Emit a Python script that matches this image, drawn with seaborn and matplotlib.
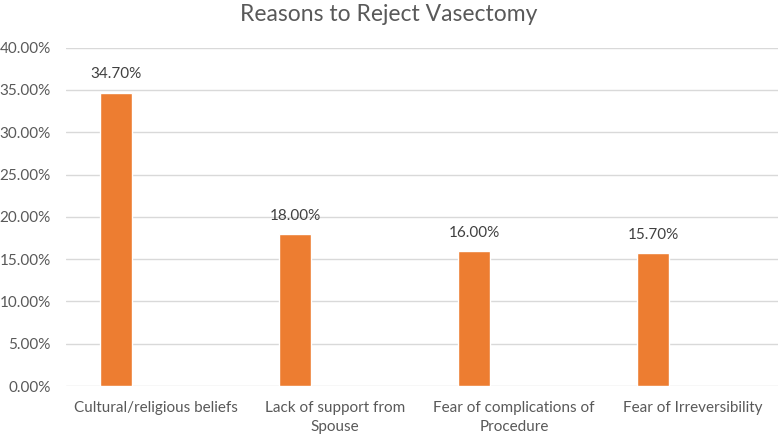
import pandas as pd
import seaborn as sns
import matplotlib.pyplot as plt
from matplotlib.ticker import PercentFormatter

# values
reasons = ['Cultural/religious beliefs', 'Lack of support from\nSpouse',
           'Fear of complications of\nProcedure', 'Fear of Irreversibility']
share = [0.347, 0.18, 0.16, 0.157]
series_names = ['Percentage', 'Blank']

df = pd.DataFrame({'reason': reasons, 'share': share, 'series': series_names[0]})

sns.set_theme(style='white')
plt.rcParams['font.family'] = ['Lato', 'DejaVu Sans']

fig = plt.figure(figsize=(7.78, 4.37), dpi=100)
ax = fig.add_axes([66 / 778, 1 - 386 / 437, 1 - 66 / 778, (386 - 47.7) / 437])

# second (empty) series keeps the bars to the left of each category, like the Excel original
sns.barplot(data=df, x='reason', y='share', hue='series', hue_order=series_names,
            palette=['#ED7D31', '#A5A5A5'], saturation=1, dodge=True,
            width=0.89, gap=0.6, legend=False, ax=ax)

for c in ax.containers:
    ax.bar_label(c, labels=[f'{v * 100:.2f}%' for v in c.datavalues],
                 padding=8, fontsize=11, color='#404040')

ax.set_ylim(0, 0.40)
ax.set_yticks([i * 0.05 for i in range(9)])
ax.yaxis.set_major_formatter(PercentFormatter(1.0, decimals=2))
ax.set_xlim(-0.503, 3.475)
ax.grid(axis='y', color='#D9D9D9', linewidth=1)
ax.set_axisbelow(True)
sns.despine(ax=ax, left=True, bottom=True, top=True, right=True)
ax.tick_params(axis='both', length=0, labelsize=11, labelcolor='#595959')
ax.tick_params(axis='x', pad=11)
ax.tick_params(axis='y', pad=11)
for lbl in ax.get_xticklabels():
    lbl.set_multialignment('center')
    lbl.set_linespacing(1.4)
ax.set_xlabel('')
ax.set_ylabel('')

fig.suptitle('Reasons to Reject Vasectomy', fontsize=16.5, color='#595959', y=0.99)

plt.savefig('out.png', dpi=100)
